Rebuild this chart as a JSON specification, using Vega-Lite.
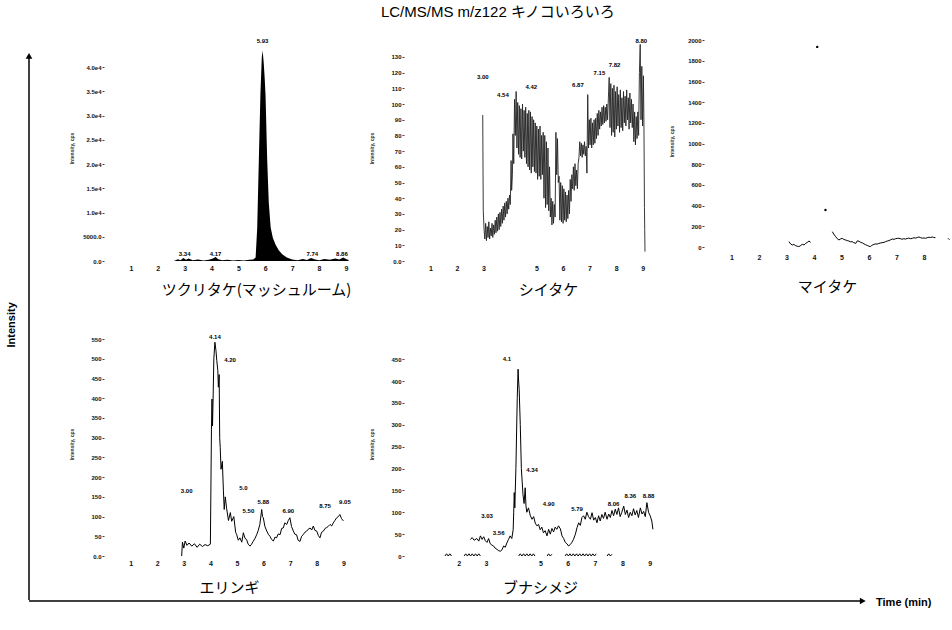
{
  "$schema": "https://vega.github.io/schema/vega-lite/v6.json",
  "background": "white",
  "padding": {"left": 5, "top": 5, "right": 0, "bottom": 0},
  "title": {"text": "LC/MS/MS m/z122  キノコいろいろ", "font": "Liberation Sans, Noto Sans CJK JP", "fontSize": 15, "fontWeight": "normal", "anchor": "middle", "offset": 15, "dx": 20, "color": "#000"},
  "config": {
    "view": {"stroke": null},
    "font": "Liberation Sans",
    "axisX": {"domain": false, "ticks": false, "grid": false, "labelOverlap": false, "tickCount": 60, "format": "d", "labelFontSize": 7, "labelFontWeight": "bold", "labelPadding": 3, "labelColor": "#111", "titleFont": "Noto Sans CJK JP", "titleFontSize": 15, "titleFontWeight": "normal", "titleColor": "#000"},
    "axisY": {"domain": false, "ticks": true, "tickSize": 2, "tickColor": "#444", "grid": false, "labelOverlap": false, "tickCount": 60, "format": "d", "labelFontSize": 6, "labelFontWeight": "bold", "labelColor": "#111", "labelPadding": 1, "minExtent": 24, "maxExtent": 24, "titleFontSize": 5, "titleFontWeight": "bold", "titlePadding": 6, "titleColor": "#333"}
  },
  "datasets": {
    "p1": [
      {"t":2.6,"v":0},{"t":2.75,"v":350},{"t":2.85,"v":150},{"t":2.95,"v":600},{"t":3.05,"v":250},{"t":3.15,"v":500},{"t":3.3,"v":150},{"t":3.5,"v":300},{"t":3.7,"v":100},{"t":3.9,"v":250},{"t":4.05,"v":500},{"t":4.15,"v":800},{"t":4.25,"v":350},{"t":4.4,"v":150},{"t":4.6,"v":250},{"t":4.8,"v":100},{"t":5.0,"v":200},{"t":5.2,"v":100},{"t":5.4,"v":250},{"t":5.55,"v":300},{"t":5.64,"v":700},{"t":5.7,"v":6900},{"t":5.76,"v":20800},{"t":5.82,"v":34700},{"t":5.87,"v":42000},{"t":5.9,"v":43400},{"t":5.94,"v":41000},{"t":5.98,"v":37500},{"t":6.01,"v":34000},{"t":6.07,"v":21000},{"t":6.13,"v":12000},{"t":6.2,"v":6900},{"t":6.28,"v":4800},{"t":6.38,"v":3400},{"t":6.5,"v":2200},{"t":6.63,"v":1400},{"t":6.8,"v":700},{"t":7.0,"v":300},{"t":7.2,"v":150},{"t":7.4,"v":400},{"t":7.55,"v":200},{"t":7.7,"v":600},{"t":7.85,"v":300},{"t":8.0,"v":150},{"t":8.2,"v":400},{"t":8.4,"v":250},{"t":8.6,"v":500},{"t":8.75,"v":300},{"t":8.9,"v":700},{"t":9.0,"v":400},{"t":9.1,"v":200}
    ],
    "l1": [
      {"t":5.9,"v":45300,"label":"5.93"},{"t":3.0,"v":1500,"label":"3.34"},{"t":4.15,"v":1500,"label":"4.17"},{"t":7.75,"v":1500,"label":"7.74"},{"t":8.85,"v":1500,"label":"8.86"}
    ],
    "p2": [
      {"t":2.97,"v":93},{"t":2.98,"v":60},{"t":2.99,"v":32},{"t":3.02,"v":20},{"t":3.05,"v":14},{"t":3.08,"v":24},{"t":3.11,"v":13},{"t":3.14,"v":22},{"t":3.17,"v":15},{"t":3.2,"v":25},{"t":3.23,"v":14},{"t":3.26,"v":21},{"t":3.29,"v":16},{"t":3.32,"v":24},{"t":3.35,"v":15},{"t":3.38,"v":23},{"t":3.41,"v":17},{"t":3.44,"v":26},{"t":3.47,"v":18},{"t":3.5,"v":28},{"t":3.53,"v":19},{"t":3.56,"v":30},{"t":3.59,"v":20},{"t":3.62,"v":31},{"t":3.65,"v":22},{"t":3.68,"v":33},{"t":3.71,"v":24},{"t":3.74,"v":35},{"t":3.77,"v":26},{"t":3.8,"v":37},{"t":3.83,"v":28},{"t":3.86,"v":38},{"t":3.89,"v":30},{"t":3.92,"v":40},{"t":3.95,"v":33},{"t":3.98,"v":42},{"t":4.01,"v":36},{"t":4.04,"v":64},{"t":4.06,"v":45},{"t":4.09,"v":55},{"t":4.11,"v":81},{"t":4.14,"v":62},{"t":4.17,"v":103},{"t":4.2,"v":80},{"t":4.23,"v":108},{"t":4.26,"v":72},{"t":4.29,"v":101},{"t":4.32,"v":68},{"t":4.35,"v":99},{"t":4.38,"v":66},{"t":4.41,"v":97},{"t":4.44,"v":65},{"t":4.47,"v":100},{"t":4.5,"v":70},{"t":4.53,"v":96},{"t":4.56,"v":66},{"t":4.59,"v":98},{"t":4.62,"v":62},{"t":4.65,"v":94},{"t":4.68,"v":60},{"t":4.71,"v":96},{"t":4.74,"v":58},{"t":4.77,"v":95},{"t":4.8,"v":56},{"t":4.83,"v":92},{"t":4.86,"v":60},{"t":4.89,"v":90},{"t":4.92,"v":57},{"t":4.95,"v":88},{"t":4.98,"v":56},{"t":5.01,"v":86},{"t":5.04,"v":52},{"t":5.07,"v":84},{"t":5.1,"v":54},{"t":5.13,"v":86},{"t":5.16,"v":52},{"t":5.19,"v":80},{"t":5.22,"v":55},{"t":5.25,"v":82},{"t":5.28,"v":40},{"t":5.31,"v":80},{"t":5.34,"v":34},{"t":5.37,"v":76},{"t":5.4,"v":36},{"t":5.43,"v":72},{"t":5.46,"v":32},{"t":5.49,"v":60},{"t":5.52,"v":28},{"t":5.55,"v":40},{"t":5.58,"v":23},{"t":5.61,"v":38},{"t":5.64,"v":24},{"t":5.67,"v":36},{"t":5.7,"v":28},{"t":5.73,"v":82},{"t":5.76,"v":55},{"t":5.79,"v":78},{"t":5.82,"v":50},{"t":5.85,"v":54},{"t":5.88,"v":26},{"t":5.91,"v":50},{"t":5.94,"v":25},{"t":5.97,"v":48},{"t":6.0,"v":24},{"t":6.03,"v":46},{"t":6.06,"v":26},{"t":6.09,"v":44},{"t":6.12,"v":25},{"t":6.15,"v":42},{"t":6.18,"v":27},{"t":6.21,"v":45},{"t":6.24,"v":30},{"t":6.27,"v":52},{"t":6.3,"v":38},{"t":6.33,"v":55},{"t":6.36,"v":46},{"t":6.39,"v":60},{"t":6.42,"v":45},{"t":6.45,"v":62},{"t":6.48,"v":48},{"t":6.51,"v":58},{"t":6.54,"v":46},{"t":6.57,"v":62},{"t":6.6,"v":66},{"t":6.63,"v":76},{"t":6.66,"v":67},{"t":6.69,"v":75},{"t":6.72,"v":66},{"t":6.75,"v":74},{"t":6.78,"v":68},{"t":6.81,"v":76},{"t":6.84,"v":67},{"t":6.87,"v":73},{"t":6.9,"v":56},{"t":6.93,"v":106},{"t":6.96,"v":72},{"t":6.99,"v":90},{"t":7.02,"v":74},{"t":7.05,"v":91},{"t":7.08,"v":72},{"t":7.11,"v":88},{"t":7.14,"v":74},{"t":7.17,"v":90},{"t":7.2,"v":75},{"t":7.23,"v":91},{"t":7.26,"v":78},{"t":7.29,"v":94},{"t":7.32,"v":80},{"t":7.35,"v":96},{"t":7.38,"v":84},{"t":7.41,"v":95},{"t":7.44,"v":86},{"t":7.47,"v":98},{"t":7.5,"v":87},{"t":7.53,"v":99},{"t":7.56,"v":88},{"t":7.59,"v":98},{"t":7.62,"v":89},{"t":7.65,"v":100},{"t":7.68,"v":90},{"t":7.71,"v":104},{"t":7.74,"v":117},{"t":7.77,"v":85},{"t":7.8,"v":113},{"t":7.83,"v":80},{"t":7.86,"v":110},{"t":7.89,"v":82},{"t":7.92,"v":112},{"t":7.95,"v":79},{"t":7.98,"v":108},{"t":8.01,"v":84},{"t":8.04,"v":111},{"t":8.07,"v":86},{"t":8.1,"v":106},{"t":8.13,"v":82},{"t":8.16,"v":109},{"t":8.19,"v":85},{"t":8.22,"v":104},{"t":8.25,"v":83},{"t":8.28,"v":108},{"t":8.31,"v":88},{"t":8.34,"v":105},{"t":8.37,"v":86},{"t":8.4,"v":109},{"t":8.43,"v":90},{"t":8.46,"v":104},{"t":8.49,"v":84},{"t":8.52,"v":107},{"t":8.55,"v":88},{"t":8.58,"v":103},{"t":8.61,"v":85},{"t":8.64,"v":100},{"t":8.67,"v":76},{"t":8.7,"v":95},{"t":8.73,"v":74},{"t":8.76,"v":92},{"t":8.79,"v":78},{"t":8.82,"v":95},{"t":8.85,"v":80},{"t":8.88,"v":120},{"t":8.91,"v":138},{"t":8.94,"v":90},{"t":8.97,"v":124},{"t":9.0,"v":86},{"t":9.03,"v":118},{"t":9.05,"v":88},{"t":9.07,"v":34},{"t":9.08,"v":20},{"t":9.09,"v":6}
    ],
    "l2": [
      {"t":2.97,"v":117,"label":"3.00"},{"t":3.73,"v":106,"label":"4.54"},{"t":4.8,"v":111,"label":"4.42"},{"t":6.56,"v":112,"label":"6.87"},{"t":7.37,"v":120,"label":"7.15"},{"t":7.94,"v":125,"label":"7.82"},{"t":8.95,"v":140,"label":"8.80"}
    ],
    "p3": [
      {"s":"a","t":3.09,"v":52},{"s":"a","t":3.15,"v":30},{"s":"a","t":3.21,"v":19},{"s":"a","t":3.27,"v":25},{"s":"a","t":3.33,"v":13},{"s":"a","t":3.39,"v":8},{"s":"a","t":3.45,"v":3},{"s":"a","t":3.52,"v":15},{"s":"a","t":3.58,"v":26},{"s":"a","t":3.64,"v":20},{"s":"a","t":3.7,"v":35},{"s":"a","t":3.76,"v":45},{"s":"a","t":3.82,"v":58},{"s":"a","t":3.88,"v":45},
      {"s":"b","t":4.67,"v":148},{"s":"b","t":4.72,"v":125},{"s":"b","t":4.79,"v":100},{"s":"b","t":4.85,"v":80},{"s":"b","t":4.91,"v":68},{"s":"b","t":4.97,"v":78},{"s":"b","t":5.03,"v":84},{"s":"b","t":5.09,"v":72},{"s":"b","t":5.15,"v":68},{"s":"b","t":5.21,"v":62},{"s":"b","t":5.27,"v":58},{"s":"b","t":5.33,"v":50},{"s":"b","t":5.39,"v":52},{"s":"b","t":5.45,"v":42},{"s":"b","t":5.52,"v":35},{"s":"b","t":5.58,"v":60},{"s":"b","t":5.64,"v":55},{"s":"b","t":5.7,"v":45},{"s":"b","t":5.76,"v":40},{"s":"b","t":5.82,"v":30},{"s":"b","t":5.88,"v":22},{"s":"b","t":5.94,"v":15},{"s":"b","t":6.0,"v":8},{"s":"b","t":6.06,"v":3},{"s":"b","t":6.12,"v":19},{"s":"b","t":6.18,"v":25},{"s":"b","t":6.24,"v":30},{"s":"b","t":6.3,"v":28},{"s":"b","t":6.36,"v":35},{"s":"b","t":6.42,"v":38},{"s":"b","t":6.48,"v":42},{"s":"b","t":6.55,"v":45},{"s":"b","t":6.61,"v":52},{"s":"b","t":6.67,"v":58},{"s":"b","t":6.73,"v":62},{"s":"b","t":6.79,"v":70},{"s":"b","t":6.85,"v":77},{"s":"b","t":6.91,"v":74},{"s":"b","t":6.97,"v":80},{"s":"b","t":7.03,"v":84},{"s":"b","t":7.09,"v":84},{"s":"b","t":7.15,"v":80},{"s":"b","t":7.21,"v":75},{"s":"b","t":7.27,"v":80},{"s":"b","t":7.33,"v":77},{"s":"b","t":7.39,"v":82},{"s":"b","t":7.45,"v":86},{"s":"b","t":7.52,"v":80},{"s":"b","t":7.58,"v":84},{"s":"b","t":7.64,"v":90},{"s":"b","t":7.7,"v":86},{"s":"b","t":7.76,"v":92},{"s":"b","t":7.82,"v":97},{"s":"b","t":7.88,"v":90},{"s":"b","t":7.94,"v":85},{"s":"b","t":8.0,"v":88},{"s":"b","t":8.06,"v":84},{"s":"b","t":8.12,"v":90},{"s":"b","t":8.18,"v":94},{"s":"b","t":8.24,"v":92},{"s":"b","t":8.3,"v":97},{"s":"b","t":8.36,"v":92},{"s":"b","t":8.42,"v":90},
      {"s":"c","t":8.88,"v":84},{"s":"c","t":8.93,"v":70}
    ],
    "d3": [
      {"t":4.12,"v":1935},{"t":4.42,"v":357}
    ],
    "p4": [
      {"t":2.92,"v":0},{"t":2.95,"v":35},{"t":3.0,"v":20},{"t":3.05,"v":38},{"t":3.12,"v":27},{"t":3.2,"v":33},{"t":3.3,"v":25},{"t":3.4,"v":31},{"t":3.5,"v":22},{"t":3.6,"v":30},{"t":3.7,"v":24},{"t":3.8,"v":29},{"t":3.9,"v":26},{"t":4.0,"v":30},{"t":4.04,"v":320},{"t":4.06,"v":398},{"t":4.08,"v":330},{"t":4.1,"v":390},{"t":4.13,"v":500},{"t":4.17,"v":542},{"t":4.21,"v":521},{"t":4.24,"v":496},{"t":4.28,"v":470},{"t":4.3,"v":428},{"t":4.33,"v":460},{"t":4.35,"v":300},{"t":4.37,"v":275},{"t":4.4,"v":220},{"t":4.45,"v":240},{"t":4.49,"v":165},{"t":4.52,"v":118},{"t":4.56,"v":150},{"t":4.61,"v":121},{"t":4.68,"v":90},{"t":4.75,"v":110},{"t":4.8,"v":88},{"t":4.88,"v":100},{"t":4.95,"v":60},{"t":4.99,"v":54},{"t":5.05,"v":40},{"t":5.11,"v":46},{"t":5.18,"v":35},{"t":5.24,"v":59},{"t":5.3,"v":45},{"t":5.36,"v":42},{"t":5.42,"v":30},{"t":5.49,"v":25},{"t":5.55,"v":30},{"t":5.61,"v":37},{"t":5.68,"v":45},{"t":5.74,"v":54},{"t":5.8,"v":65},{"t":5.86,"v":80},{"t":5.93,"v":118},{"t":5.96,"v":100},{"t":5.99,"v":97},{"t":6.05,"v":75},{"t":6.12,"v":63},{"t":6.18,"v":55},{"t":6.24,"v":50},{"t":6.3,"v":42},{"t":6.37,"v":38},{"t":6.43,"v":48},{"t":6.49,"v":46},{"t":6.55,"v":56},{"t":6.62,"v":54},{"t":6.68,"v":70},{"t":6.74,"v":71},{"t":6.8,"v":84},{"t":6.87,"v":80},{"t":6.93,"v":90},{"t":6.99,"v":97},{"t":7.05,"v":75},{"t":7.12,"v":63},{"t":7.18,"v":55},{"t":7.24,"v":54},{"t":7.3,"v":40},{"t":7.37,"v":37},{"t":7.43,"v":50},{"t":7.49,"v":54},{"t":7.55,"v":60},{"t":7.62,"v":63},{"t":7.68,"v":68},{"t":7.75,"v":71},{"t":7.81,"v":66},{"t":7.87,"v":76},{"t":7.93,"v":65},{"t":8.0,"v":63},{"t":8.06,"v":52},{"t":8.12,"v":46},{"t":8.18,"v":60},{"t":8.25,"v":63},{"t":8.31,"v":70},{"t":8.37,"v":72},{"t":8.43,"v":75},{"t":8.5,"v":80},{"t":8.56,"v":76},{"t":8.62,"v":84},{"t":8.68,"v":90},{"t":8.75,"v":97},{"t":8.81,"v":100},{"t":8.87,"v":105},{"t":8.93,"v":95},{"t":9.0,"v":89}
    ],
    "l4": [
      {"t":3.11,"v":165,"label":"3.00"},{"t":4.17,"v":556,"label":"4.14"},{"t":4.74,"v":496,"label":"4.20"},{"t":5.24,"v":172,"label":"5.0"},{"t":5.43,"v":113,"label":"5.50"},{"t":5.99,"v":138,"label":"5.88"},{"t":6.93,"v":115,"label":"6.90"},{"t":8.31,"v":128,"label":"8.75"},{"t":9.06,"v":138,"label":"9.05"}
    ],
    "p5": [
      {"s":"m","t":2.43,"v":38},{"s":"m","t":2.5,"v":42},{"s":"m","t":2.57,"v":36},{"s":"m","t":2.67,"v":40},{"s":"m","t":2.74,"v":34},{"s":"m","t":2.8,"v":46},{"s":"m","t":2.86,"v":38},{"s":"m","t":2.92,"v":44},{"s":"m","t":2.98,"v":35},{"s":"m","t":3.04,"v":31},{"s":"m","t":3.1,"v":40},{"s":"m","t":3.16,"v":28},{"s":"m","t":3.22,"v":25},{"s":"m","t":3.28,"v":23},{"s":"m","t":3.34,"v":18},{"s":"m","t":3.41,"v":15},{"s":"m","t":3.47,"v":12},{"s":"m","t":3.53,"v":11},{"s":"m","t":3.59,"v":14},{"s":"m","t":3.65,"v":23},{"s":"m","t":3.71,"v":20},{"s":"m","t":3.77,"v":30},{"s":"m","t":3.83,"v":38},{"s":"m","t":3.89,"v":46},{"s":"m","t":3.95,"v":40},{"s":"m","t":4.0,"v":60},{"s":"m","t":4.02,"v":100},{"s":"m","t":4.04,"v":145},{"s":"m","t":4.06,"v":110},{"s":"m","t":4.1,"v":200},{"s":"m","t":4.15,"v":362},{"s":"m","t":4.18,"v":427},{"s":"m","t":4.2,"v":400},{"s":"m","t":4.22,"v":380},{"s":"m","t":4.26,"v":300},{"s":"m","t":4.3,"v":200},{"s":"m","t":4.36,"v":140},{"s":"m","t":4.4,"v":120},{"s":"m","t":4.44,"v":156},{"s":"m","t":4.47,"v":114},{"s":"m","t":4.5,"v":100},{"s":"m","t":4.56,"v":110},{"s":"m","t":4.63,"v":92},{"s":"m","t":4.69,"v":84},{"s":"m","t":4.75,"v":90},{"s":"m","t":4.81,"v":75},{"s":"m","t":4.87,"v":69},{"s":"m","t":4.93,"v":72},{"s":"m","t":4.99,"v":60},{"s":"m","t":5.05,"v":66},{"s":"m","t":5.11,"v":53},{"s":"m","t":5.17,"v":58},{"s":"m","t":5.24,"v":46},{"s":"m","t":5.3,"v":61},{"s":"m","t":5.36,"v":50},{"s":"m","t":5.42,"v":63},{"s":"m","t":5.48,"v":55},{"s":"m","t":5.54,"v":66},{"s":"m","t":5.6,"v":61},{"s":"m","t":5.66,"v":69},{"s":"m","t":5.73,"v":62},{"s":"m","t":5.79,"v":46},{"s":"m","t":5.85,"v":40},{"s":"m","t":5.91,"v":31},{"s":"m","t":5.97,"v":28},{"s":"m","t":6.03,"v":23},{"s":"m","t":6.09,"v":26},{"s":"m","t":6.15,"v":31},{"s":"m","t":6.21,"v":38},{"s":"m","t":6.28,"v":50},{"s":"m","t":6.34,"v":65},{"s":"m","t":6.4,"v":76},{"s":"m","t":6.46,"v":70},{"s":"m","t":6.52,"v":88},{"s":"m","t":6.58,"v":92},{"s":"m","t":6.64,"v":84},{"s":"m","t":6.7,"v":100},{"s":"m","t":6.76,"v":90},{"s":"m","t":6.83,"v":84},{"s":"m","t":6.89,"v":99},{"s":"m","t":6.95,"v":82},{"s":"m","t":7.01,"v":88},{"s":"m","t":7.07,"v":76},{"s":"m","t":7.13,"v":92},{"s":"m","t":7.19,"v":80},{"s":"m","t":7.25,"v":95},{"s":"m","t":7.31,"v":86},{"s":"m","t":7.37,"v":100},{"s":"m","t":7.44,"v":84},{"s":"m","t":7.5,"v":96},{"s":"m","t":7.56,"v":88},{"s":"m","t":7.62,"v":104},{"s":"m","t":7.68,"v":92},{"s":"m","t":7.74,"v":107},{"s":"m","t":7.8,"v":95},{"s":"m","t":7.86,"v":110},{"s":"m","t":7.92,"v":90},{"s":"m","t":7.98,"v":100},{"s":"m","t":8.05,"v":114},{"s":"m","t":8.11,"v":95},{"s":"m","t":8.17,"v":105},{"s":"m","t":8.23,"v":88},{"s":"m","t":8.29,"v":100},{"s":"m","t":8.35,"v":92},{"s":"m","t":8.41,"v":108},{"s":"m","t":8.47,"v":94},{"s":"m","t":8.53,"v":104},{"s":"m","t":8.59,"v":88},{"s":"m","t":8.66,"v":110},{"s":"m","t":8.72,"v":96},{"s":"m","t":8.78,"v":102},{"s":"m","t":8.84,"v":90},{"s":"m","t":8.9,"v":122},{"s":"m","t":8.96,"v":100},{"s":"m","t":9.02,"v":92},{"s":"m","t":9.08,"v":80},{"s":"m","t":9.12,"v":61},
      {"s":"z1","t":1.5,"v":0},{"s":"z1","t":1.56,"v":5},{"s":"z1","t":1.62,"v":0},{"s":"z1","t":1.68,"v":5},{"s":"z1","t":1.74,"v":0},
      {"s":"z2","t":2.2,"v":0},{"s":"z2","t":2.26,"v":5},{"s":"z2","t":2.32,"v":0},{"s":"z2","t":2.38,"v":5},{"s":"z2","t":2.44,"v":0},{"s":"z2","t":2.5,"v":5},{"s":"z2","t":2.56,"v":0},{"s":"z2","t":2.62,"v":5},{"s":"z2","t":2.68,"v":0},{"s":"z2","t":2.74,"v":5},{"s":"z2","t":2.8,"v":0},
      {"s":"z3","t":4.2,"v":0},{"s":"z3","t":4.26,"v":5},{"s":"z3","t":4.32,"v":0},{"s":"z3","t":4.38,"v":5},{"s":"z3","t":4.44,"v":0},{"s":"z3","t":4.5,"v":5},{"s":"z3","t":4.56,"v":0},{"s":"z3","t":4.62,"v":5},{"s":"z3","t":4.68,"v":0},{"s":"z3","t":4.74,"v":5},{"s":"z3","t":4.8,"v":0},
      {"s":"z4","t":5.24,"v":0},{"s":"z4","t":5.3,"v":5},{"s":"z4","t":5.36,"v":0},{"s":"z4","t":5.42,"v":4},
      {"s":"z5","t":5.9,"v":0},{"s":"z5","t":5.96,"v":5},{"s":"z5","t":6.02,"v":0},{"s":"z5","t":6.08,"v":5},{"s":"z5","t":6.14,"v":0},{"s":"z5","t":6.2,"v":5},{"s":"z5","t":6.26,"v":0},{"s":"z5","t":6.32,"v":5},{"s":"z5","t":6.38,"v":0},{"s":"z5","t":6.44,"v":5},{"s":"z5","t":6.5,"v":0},{"s":"z5","t":6.56,"v":5},{"s":"z5","t":6.62,"v":0},{"s":"z5","t":6.68,"v":5},{"s":"z5","t":6.74,"v":0},{"s":"z5","t":6.8,"v":5},{"s":"z5","t":6.86,"v":0},{"s":"z5","t":6.92,"v":5},{"s":"z5","t":6.98,"v":0},{"s":"z5","t":7.04,"v":5},
      {"s":"z6","t":7.44,"v":0},{"s":"z6","t":7.5,"v":5},{"s":"z6","t":7.56,"v":0},{"s":"z6","t":7.62,"v":4}
    ],
    "l5": [
      {"t":3.04,"v":92,"label":"3.03"},{"t":3.47,"v":53,"label":"3.56"},{"t":3.77,"v":450,"label":"4.1"},{"t":4.69,"v":197,"label":"4.34"},{"t":5.3,"v":118,"label":"4.90"},{"t":6.34,"v":107,"label":"5.79"},{"t":7.68,"v":118,"label":"8.06"},{"t":8.29,"v":137,"label":"8.36"},{"t":8.96,"v":137,"label":"8.88"}
    ]
  },
  "vconcat": [
    {
      "hconcat": [
        {
          "width": 23,
          "height": 565,
          "layer": [
            {"data": {"values": [{}]}, "mark": {"type": "rule", "color": "#000", "strokeWidth": 1.5},
             "encoding": {"x": {"datum": 1, "type": "quantitative", "scale": {"domain": [0, 1], "nice": false}, "axis": null}, "y": {"datum": 0, "type": "quantitative", "scale": {"domain": [0, 1], "nice": false}, "axis": null}, "y2": {"datum": 0.96}}},
            {"data": {"values": [{}]}, "mark": {"type": "point", "shape": "triangle-up", "filled": true, "color": "#000", "size": 45, "opacity": 1},
             "encoding": {"x": {"datum": 1, "type": "quantitative"}, "y": {"datum": 0.963, "type": "quantitative"}}},
            {"data": {"values": [{}]}, "mark": {"type": "text", "text": "Intensity", "angle": 270, "fontSize": 11, "fontWeight": "bold", "font": "Liberation Sans", "color": "#000", "align": "center", "baseline": "middle"},
             "encoding": {"x": {"datum": 0.25, "type": "quantitative"}, "y": {"datum": 0.487, "type": "quantitative"}}}
          ]
        },
        {
          "vconcat": [
            {
              "hconcat": [
                {
                  "width": 250, "height": 226,
                  "layer": [
                    {"data": {"name": "p1"}, "mark": {"type": "area", "color": "#000", "clip": true},
                     "encoding": {
                       "x": {"field": "t", "type": "quantitative", "scale": {"domain": [0, 9.3], "nice": false, "zero": false}, "axis": {"values": [1,2,3,4,5,6,7,8,9], "tickCount": 60, "format": "d", "title": "ツクリタケ(マッシュルーム)", "titlePadding": 11, "titleX": 152}},
                       "y": {"field": "v", "type": "quantitative", "scale": {"domain": [0, 46600], "nice": false}, "axis": {"values": [0,5000,10000,15000,20000,25000,30000,35000,40000], "tickCount": 60, "title": "Intensity, cps", "labelExpr": "datum.value == 0 ? '0.0' : datum.value == 5000 ? '5000.0' : format(datum.value / 10000, '.1f') + 'e4'"}}
                     }},
                    {"data": {"name": "l1"}, "mark": {"type": "text", "fontSize": 6, "fontWeight": "bold", "color": "#000", "baseline": "middle"},
                     "encoding": {"x": {"field": "t", "type": "quantitative"}, "y": {"field": "v", "type": "quantitative"}, "text": {"field": "label", "type": "nominal"}}}
                  ]
                },
                {
                  "width": 250, "height": 226,
                  "layer": [
                    {"data": {"name": "p2"}, "mark": {"type": "line", "color": "#222", "strokeWidth": 0.9, "clip": true},
                     "encoding": {
                       "x": {"field": "t", "type": "quantitative", "scale": {"domain": [0, 9.43], "nice": false, "zero": false}, "axis": {"values": [1,2,3,5,6,7,8,9], "tickCount": 60, "format": "d", "title": "シイタケ", "titlePadding": 11, "titleX": 144}},
                       "y": {"field": "v", "type": "quantitative", "scale": {"domain": [0, 144], "nice": false}, "axis": {"values": [0,10,20,30,40,50,60,70,80,90,100,110,120,130], "tickCount": 60, "format": "d", "title": "Intensity, cps", "labelExpr": "datum.value == 0 ? '0.0' : datum.label"}}
                     }},
                    {"data": {"name": "l2"}, "mark": {"type": "text", "fontSize": 6, "fontWeight": "bold", "color": "#000", "baseline": "middle"},
                     "encoding": {"x": {"field": "t", "type": "quantitative"}, "y": {"field": "v", "type": "quantitative"}, "text": {"field": "label", "type": "nominal"}}}
                  ]
                },
                {
                  "width": 246, "height": 212,
                  "layer": [
                    {"data": {"name": "p3"}, "mark": {"type": "line", "color": "#000", "strokeWidth": 1, "clip": true},
                     "encoding": {
                       "x": {"field": "t", "type": "quantitative", "scale": {"domain": [0, 8.95], "nice": false, "zero": false}, "axis": {"values": [1,2,3,4,5,6,7,8], "tickCount": 60, "format": "d", "title": "マイタケ", "labelPadding": 6, "titlePadding": 19}},
                       "y": {"field": "v", "type": "quantitative", "scale": {"domain": [0, 2050], "nice": false}, "axis": {"values": [0,200,400,600,800,1000,1200,1400,1600,1800,2000], "tickCount": 60, "format": "d", "title": "Intensity, cps"}},
                       "detail": {"field": "s", "type": "nominal"}
                     }},
                    {"data": {"name": "d3"}, "mark": {"type": "point", "filled": true, "color": "#000", "size": 6, "opacity": 1},
                     "encoding": {"x": {"field": "t", "type": "quantitative"}, "y": {"field": "v", "type": "quantitative"}}}
                  ]
                }
              ],
              "spacing": 15
            },
            {
              "hconcat": [
                {
                  "width": 250, "height": 224,
                  "layer": [
                    {"data": {"name": "p4"}, "mark": {"type": "line", "color": "#000", "strokeWidth": 1, "clip": true},
                     "encoding": {
                       "x": {"field": "t", "type": "quantitative", "scale": {"domain": [0, 9.4], "nice": false, "zero": false}, "axis": {"values": [1,2,3,4,5,6,7,8,9], "tickCount": 60, "format": "d", "title": "エリンギ", "titlePadding": 14}},
                       "y": {"field": "v", "type": "quantitative", "scale": {"domain": [0, 568], "nice": false}, "axis": {"values": [0,50,100,150,200,250,300,350,400,450,500,550], "tickCount": 60, "format": "d", "title": "Intensity, cps", "labelExpr": "datum.value == 0 ? '0.0' : datum.label"}}
                     }},
                    {"data": {"name": "l4"}, "mark": {"type": "text", "fontSize": 6, "fontWeight": "bold", "color": "#000", "baseline": "middle"},
                     "encoding": {"x": {"field": "t", "type": "quantitative"}, "y": {"field": "v", "type": "quantitative"}, "text": {"field": "label", "type": "nominal"}}}
                  ]
                },
                {
                  "width": 250, "height": 224,
                  "layer": [
                    {"data": {"name": "p5"}, "mark": {"type": "line", "color": "#000", "strokeWidth": 1, "clip": true},
                     "encoding": {
                       "x": {"field": "t", "type": "quantitative", "scale": {"domain": [0, 9.16], "nice": false, "zero": false}, "axis": {"values": [2,3,5,6,7,8,9], "tickCount": 60, "format": "d", "title": "ブナシメジ", "titlePadding": 14, "titleX": 136}},
                       "y": {"field": "v", "type": "quantitative", "scale": {"domain": [0, 512], "nice": false}, "axis": {"values": [0,50,100,150,200,250,300,350,400,450], "tickCount": 60, "format": "d", "title": "Intensity, cps"}},
                       "detail": {"field": "s", "type": "nominal"}
                     }},
                    {"data": {"name": "l5"}, "mark": {"type": "text", "fontSize": 6, "fontWeight": "bold", "color": "#000", "baseline": "middle"},
                     "encoding": {"x": {"field": "t", "type": "quantitative"}, "y": {"field": "v", "type": "quantitative"}, "text": {"field": "label", "type": "nominal"}}}
                  ]
                }
              ],
              "spacing": 15
            }
          ],
          "spacing": 35
        }
      ],
      "spacing": 36
    },
    {
      "width": 900,
      "height": 8,
      "layer": [
        {"data": {"values": [{}]}, "mark": {"type": "rule", "color": "#000", "strokeWidth": 1.5},
         "encoding": {"x": {"datum": 0.0256, "type": "quantitative", "scale": {"domain": [0, 1], "nice": false}, "axis": null}, "x2": {"datum": 0.95}, "y": {"datum": 1, "type": "quantitative", "scale": {"domain": [0, 1], "nice": false}, "axis": null}}},
        {"data": {"values": [{}]}, "mark": {"type": "point", "shape": "triangle-right", "filled": true, "color": "#000", "size": 45, "opacity": 1},
         "encoding": {"x": {"datum": 0.952, "type": "quantitative"}, "y": {"datum": 1, "type": "quantitative"}}},
        {"data": {"values": [{}]}, "mark": {"type": "text", "text": "Time (min)", "fontSize": 11, "fontWeight": "bold", "font": "Liberation Sans", "color": "#000", "align": "left", "baseline": "middle"},
         "encoding": {"x": {"datum": 0.9667, "type": "quantitative"}, "y": {"datum": 0.8, "type": "quantitative"}}}
      ]
    }
  ],
  "spacing": -5
}
